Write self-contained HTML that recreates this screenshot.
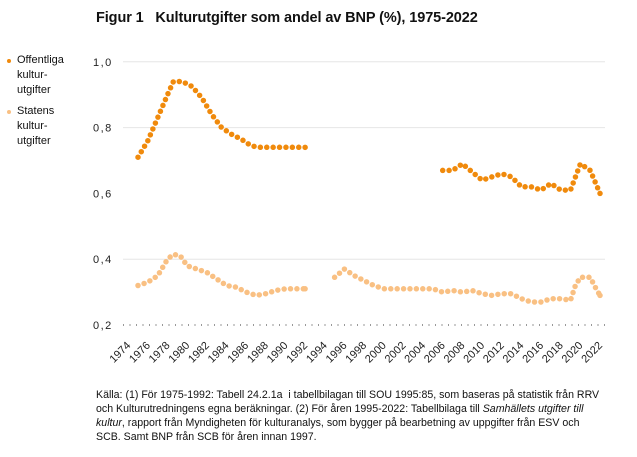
<!DOCTYPE html>
<html><head><meta charset="utf-8"><style>
body{margin:0;width:637px;height:457px;background:#fff;font-family:"Liberation Sans",sans-serif;color:#111;position:relative;overflow:hidden}
.t{position:absolute;left:96px;top:10px;font-weight:bold;font-size:14.5px;letter-spacing:-0.1px}
.cap{position:absolute;left:96px;top:388px;width:505px;font-size:10.6px;line-height:14px}
.leg{position:absolute;left:17px;font-size:11px;line-height:15px}
.dot{position:absolute;left:7px;width:4px;height:4px;border-radius:50%}
</style></head><body>
<div class="t">Figur 1&nbsp;&nbsp;&nbsp;Kulturutgifter som andel av BNP (%), 1975-2022</div>
<div class="dot" style="top:59px;background:#f08a0c"></div>
<div class="leg" style="top:53px">Offentliga<br>kultur-<br>utgifter</div>
<div class="dot" style="top:110px;background:#f9c083"></div>
<div class="leg" style="top:104px">Statens<br>kultur-<br>utgifter</div>
<svg id="s" width="637" height="457" style="position:absolute;left:0;top:0"></svg>
<div class="cap">Källa: (1) För 1975-1992: Tabell 24.2.1a&nbsp; i tabellbilagan till SOU 1995:85, som baseras på statistik från RRV och Kulturutredningens egna beräkningar. (2) För åren 1995-2022: Tabellbilaga till <i>Samhällets utgifter till kultur</i>, rapport från Myndigheten för kulturanalys, som bygger på bearbetning av uppgifter från ESV och SCB. Samt BNP från SCB för åren innan 1997.</div>
<script>
var s=document.getElementById('s'),h='';
function X(y){return 138+(y-1975)*9.83}
function Y(v){return 325-(v-0.2)*329}
[[1.0,'1,0'],[0.8,'0,8'],[0.6,'0,6'],[0.4,'0,4']].forEach(function(g){
if(g[0]!=0.6)h+='<line x1="123" x2="605" y1="'+Y(g[0])+'" y2="'+Y(g[0])+'" stroke="#e6e6e6" stroke-width="1"/>';
h+='<text x="93" y="'+(Y(g[0])+4)+'" font-size="11" fill="#222" letter-spacing="1.5">'+g[1]+'</text>';});
h+='<text x="93" y="329" font-size="11" fill="#222" letter-spacing="1.5">0,2</text>';
h+='<line x1="123" x2="605" y1="325" y2="325" stroke="#333" stroke-width="1" stroke-dasharray="1 5.5"/>';
for(var y=1974;y<=2022;y+=2){var x=X(y);h+='<text font-size="11" fill="#222" text-anchor="end" transform="translate('+(x+3)+',346) rotate(-45)">'+y+'</text>';}
function ser(d,c){var p='';d.forEach(function(q,i){p+=(i?'L':'M')+X(q[0]).toFixed(1)+' '+Y(q[1]).toFixed(1);});
h+='<path d="'+p+'" fill="none" stroke="'+c+'" stroke-width="5.5" stroke-linecap="round" stroke-dasharray="0 6.4"/>';
var l=d[d.length-1];h+='<circle cx="'+X(l[0])+'" cy="'+Y(l[1])+'" r="2.75" fill="'+c+'"/>';}
ser([[1975,.71],[1976,.76],[1977,.83],[1978,.90],[1978.6,.94],[1979.5,.94],[1980.5,.925],[1981.5,.89],[1982.5,.84],[1983.5,.80],[1984.5,.78],[1985.5,.765],[1986.5,.745],[1987.3,.74],[1992,.74]],'#f08a0c');
ser([[2006,.67],[2007,.67],[2008,.69],[2009,.665],[2010,.64],[2011,.65],[2012,.66],[2013,.65],[2014,.62],[2015,.62],[2016,.61],[2017,.63],[2018,.61],[2019,.61],[2020,.69],[2021,.67],[2022,.60]],'#f08a0c');
ser([[1975,.32],[1976,.33],[1977,.35],[1978,.40],[1978.6,.415],[1979.3,.41],[1980,.38],[1981,.37],[1982,.36],[1983,.34],[1984,.32],[1985,.315],[1986,.30],[1987,.29],[1988,.295],[1989,.305],[1990,.31],[1992,.31]],'#f9c083');
ser([[1995,.345],[1996,.37],[1997,.35],[1998,.335],[1999,.32],[2000,.31],[2005,.31],[2006,.30],[2007,.305],[2008,.30],[2009,.305],[2010,.295],[2011,.29],[2012,.295],[2013,.295],[2014,.28],[2015,.27],[2016,.27],[2017,.28],[2018,.28],[2019,.275],[2019.5,.32],[2020,.345],[2021,.345],[2021.6,.31],[2022,.29]],'#f9c083');
s.innerHTML=h;
</script>
</body></html>
